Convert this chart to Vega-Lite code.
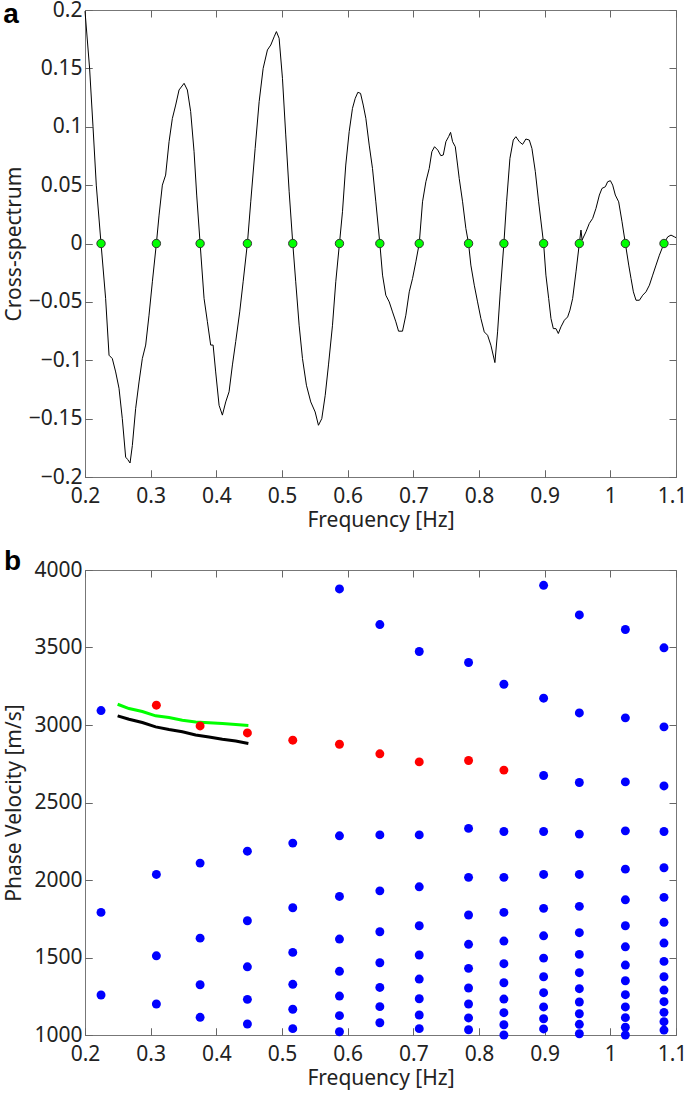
{
  "$schema": "https://vega.github.io/schema/vega-lite/v6.json",
  "padding": {"left": 2, "top": -2, "right": 0, "bottom": 2},
  "background": "white",
  "config": {
    "font": "Noto Sans",
    "view": {"stroke": "#777777", "strokeWidth": 1},
    "axis": {
      "grid": false,
      "domain": false,
      "ticks": true,
      "tickColor": "#666666",
      "tickWidth": 1,
      "tickSize": 7,
      "offset": -7,
      "labelFont": "Noto Sans",
      "titleFont": "Noto Sans",
      "labelFontSize": 21,
      "titleFontSize": 21,
      "titleFontWeight": "normal",
      "labelColor": "#222222",
      "titleColor": "#222222"
    },
    "axisX": {"labelPadding": 8, "titlePadding": 3},
    "axisY": {"labelPadding": 3}
  },
  "spacing": 16,
  "datasets": {
    "wave": [
      {"f":0.2000,"v":0.199},{"f":0.2070,"v":0.150},{"f":0.2122,"v":0.100},{"f":0.2172,"v":0.050},{"f":0.2244,"v":0.000},
      {"f":0.2314,"v":-0.047},{"f":0.2366,"v":-0.0957},{"f":0.2416,"v":-0.0986},{"f":0.2467,"v":-0.110},{"f":0.2518,"v":-0.124},
      {"f":0.2568,"v":-0.150},{"f":0.2619,"v":-0.183},{"f":0.2650,"v":-0.185},{"f":0.2686,"v":-0.188},{"f":0.2721,"v":-0.173},
      {"f":0.2771,"v":-0.1415},{"f":0.2823,"v":-0.1186},{"f":0.2873,"v":-0.0986},{"f":0.2924,"v":-0.087},{"f":0.2975,"v":-0.0614},
      {"f":0.3026,"v":-0.0328},{"f":0.3087,"v":0.000},{"f":0.3128,"v":0.0243},{"f":0.3178,"v":0.050},{"f":0.3228,"v":0.0586},
      {"f":0.3280,"v":0.0872},{"f":0.3330,"v":0.107},{"f":0.3381,"v":0.1186},{"f":0.3432,"v":0.1315},{"f":0.3509,"v":0.1372},
      {"f":0.3559,"v":0.1315},{"f":0.3609,"v":0.113},{"f":0.3661,"v":0.0786},{"f":0.3701,"v":0.0415},{"f":0.3753,"v":0.000},
      {"f":0.3813,"v":-0.047},{"f":0.3864,"v":-0.067},{"f":0.3914,"v":-0.087},{"f":0.3951,"v":-0.087},{"f":0.3990,"v":-0.110},
      {"f":0.4042,"v":-0.1386},{"f":0.4092,"v":-0.147},{"f":0.4143,"v":-0.1357},{"f":0.4194,"v":-0.127},{"f":0.4245,"v":-0.104},
      {"f":0.4295,"v":-0.084},{"f":0.4356,"v":-0.0586},{"f":0.4408,"v":-0.0328},{"f":0.4473,"v":0.000},{"f":0.4524,"v":0.0357},
      {"f":0.4591,"v":0.0814},{"f":0.4652,"v":0.1215},{"f":0.4713,"v":0.150},{"f":0.4778,"v":0.1658},{"f":0.4829,"v":0.170},
      {"f":0.4880,"v":0.177},{"f":0.4915,"v":0.1815},{"f":0.4956,"v":0.1758},{"f":0.5007,"v":0.1415},{"f":0.5057,"v":0.093},
      {"f":0.5109,"v":0.0443},{"f":0.5164,"v":0.000},{"f":0.5209,"v":-0.0328},{"f":0.5261,"v":-0.070},{"f":0.5312,"v":-0.0986},
      {"f":0.5372,"v":-0.1214},{"f":0.5438,"v":-0.1357},{"f":0.5505,"v":-0.1443},{"f":0.5555,"v":-0.1557},{"f":0.5606,"v":-0.150},
      {"f":0.5658,"v":-0.130},{"f":0.5708,"v":-0.104},{"f":0.5769,"v":-0.070},{"f":0.5819,"v":-0.0328},{"f":0.5875,"v":0.000},
      {"f":0.5921,"v":0.0272},{"f":0.5971,"v":0.0672},{"f":0.6023,"v":0.0958},{"f":0.6073,"v":0.1157},{"f":0.6115,"v":0.1243},
      {"f":0.6155,"v":0.1295},{"f":0.6196,"v":0.1286},{"f":0.6237,"v":0.1186},{"f":0.6277,"v":0.1072},{"f":0.6328,"v":0.0843},
      {"f":0.6378,"v":0.0643},{"f":0.6429,"v":0.0357},{"f":0.6490,"v":0.000},{"f":0.6531,"v":-0.0271},{"f":0.6581,"v":-0.0443},
      {"f":0.6633,"v":-0.050},{"f":0.6683,"v":-0.0586},{"f":0.6734,"v":-0.0671},{"f":0.6775,"v":-0.0751},{"f":0.6835,"v":-0.0751},
      {"f":0.6886,"v":-0.0614},{"f":0.6938,"v":-0.0414},{"f":0.6988,"v":-0.030},{"f":0.7038,"v":-0.0157},{"f":0.7090,"v":0.000},
      {"f":0.7140,"v":0.0357},{"f":0.7191,"v":0.0529},{"f":0.7242,"v":0.0643},{"f":0.7282,"v":0.0786},{"f":0.7323,"v":0.0829},
      {"f":0.7373,"v":0.080},{"f":0.7419,"v":0.0752},{"f":0.7456,"v":0.0758},{"f":0.7496,"v":0.0872},{"f":0.7537,"v":0.0915},
      {"f":0.7567,"v":0.0952},{"f":0.7598,"v":0.0872},{"f":0.7639,"v":0.0829},{"f":0.7674,"v":0.0672},{"f":0.7699,"v":0.0557},
      {"f":0.7750,"v":0.0357},{"f":0.7800,"v":0.0129},{"f":0.7841,"v":0.000},{"f":0.7876,"v":-0.0185},{"f":0.7928,"v":-0.0357},
      {"f":0.7978,"v":-0.050},{"f":0.8029,"v":-0.0643},{"f":0.8080,"v":-0.0757},{"f":0.8131,"v":-0.0786},{"f":0.8181,"v":-0.0871},
      {"f":0.8242,"v":-0.102},{"f":0.8283,"v":-0.0757},{"f":0.8324,"v":-0.0414},{"f":0.8379,"v":0.000},{"f":0.8420,"v":0.0357},
      {"f":0.8471,"v":0.0729},{"f":0.8522,"v":0.0886},{"f":0.8562,"v":0.0915},{"f":0.8614,"v":0.0872},{"f":0.8664,"v":0.0849},
      {"f":0.8714,"v":0.0895},{"f":0.8766,"v":0.0886},{"f":0.8806,"v":0.0814},{"f":0.8858,"v":0.0615},{"f":0.8908,"v":0.0357},
      {"f":0.8984,"v":0.000},{"f":0.9019,"v":-0.0271},{"f":0.9061,"v":-0.0471},{"f":0.9096,"v":-0.0643},{"f":0.9132,"v":-0.0729},
      {"f":0.9172,"v":-0.0729},{"f":0.9208,"v":-0.0771},{"f":0.9248,"v":-0.0714},{"f":0.9300,"v":-0.0657},{"f":0.9350,"v":-0.0629},
      {"f":0.9385,"v":-0.0571},{"f":0.9426,"v":-0.0471},{"f":0.9477,"v":-0.0243},{"f":0.9528,"v":0.000},{"f":0.9553,"v":0.0115},
      {"f":0.9570,"v":0.003},{"f":0.9629,"v":0.010},{"f":0.9680,"v":0.0172},{"f":0.9731,"v":0.0215},{"f":0.9781,"v":0.030},
      {"f":0.9833,"v":0.0415},{"f":0.9873,"v":0.0472},{"f":0.9924,"v":0.0486},{"f":0.9959,"v":0.0529},{"f":1.0001,"v":0.0538},
      {"f":1.0036,"v":0.050},{"f":1.0076,"v":0.0415},{"f":1.0127,"v":0.0357},{"f":1.0178,"v":0.0186},{"f":1.0229,"v":0.000},
      {"f":1.0280,"v":-0.0185},{"f":1.0315,"v":-0.030},{"f":1.0351,"v":-0.0414},{"f":1.0391,"v":-0.0486},{"f":1.0443,"v":-0.0486},
      {"f":1.0493,"v":-0.0443},{"f":1.0543,"v":-0.0414},{"f":1.0595,"v":-0.0357},{"f":1.0645,"v":-0.0271},{"f":1.0696,"v":-0.0185},
      {"f":1.0747,"v":-0.010},{"f":1.0817,"v":0.000},{"f":1.0874,"v":0.0057},{"f":1.0924,"v":0.0072},{"f":1.0976,"v":0.0057},
      {"f":1.1000,"v":0.005}
    ],
    "zeros": [
      {"f":0.2244,"v":0},{"f":0.3087,"v":0},{"f":0.3753,"v":0},{"f":0.4473,"v":0},{"f":0.5164,"v":0},
      {"f":0.5875,"v":0},{"f":0.6490,"v":0},{"f":0.7090,"v":0},{"f":0.7841,"v":0},{"f":0.8379,"v":0},
      {"f":0.8984,"v":0},{"f":0.9528,"v":0},{"f":1.0229,"v":0},{"f":1.0817,"v":0}
    ],
    "green": [
      {"f":0.2497,"v":3134},{"f":0.2670,"v":3106},{"f":0.2873,"v":3087},{"f":0.3076,"v":3059},{"f":0.3279,"v":3048},
      {"f":0.3482,"v":3031},{"f":0.3685,"v":3020},{"f":0.3888,"v":3014},{"f":0.4092,"v":3009},{"f":0.4295,"v":3003},
      {"f":0.4488,"v":2997}
    ],
    "black": [
      {"f":0.2497,"v":3059},{"f":0.2670,"v":3037},{"f":0.2873,"v":3016},{"f":0.3076,"v":2988},{"f":0.3279,"v":2971},
      {"f":0.3482,"v":2956},{"f":0.3685,"v":2936},{"f":0.3888,"v":2923},{"f":0.4092,"v":2908},{"f":0.4295,"v":2897},
      {"f":0.4488,"v":2881}
    ],
    "pts": [
      {"f":0.2244,"v":3093,"k":"b"},{"f":0.2244,"v":1791,"k":"b"},{"f":0.2244,"v":1258,"k":"b"},
      {"f":0.3087,"v":3128,"k":"r"},{"f":0.3087,"v":2036,"k":"b"},{"f":0.3087,"v":1511,"k":"b"},{"f":0.3087,"v":1200,"k":"b"},
      {"f":0.3753,"v":2994,"k":"r"},{"f":0.3753,"v":2109,"k":"b"},{"f":0.3753,"v":1625,"k":"b"},{"f":0.3753,"v":1324,"k":"b"},{"f":0.3753,"v":1114,"k":"b"},
      {"f":0.4473,"v":2949,"k":"r"},{"f":0.4473,"v":2186,"k":"b"},{"f":0.4473,"v":1737,"k":"b"},{"f":0.4473,"v":1440,"k":"b"},{"f":0.4473,"v":1230,"k":"b"},{"f":0.4473,"v":1071,"k":"b"},
      {"f":0.5164,"v":2902,"k":"r"},{"f":0.5164,"v":2238,"k":"b"},{"f":0.5164,"v":1821,"k":"b"},{"f":0.5164,"v":1533,"k":"b"},{"f":0.5164,"v":1327,"k":"b"},{"f":0.5164,"v":1166,"k":"b"},{"f":0.5164,"v":1041,"k":"b"},
      {"f":0.5875,"v":3878,"k":"b"},{"f":0.5875,"v":2876,"k":"r"},{"f":0.5875,"v":2285,"k":"b"},{"f":0.5875,"v":1894,"k":"b"},{"f":0.5875,"v":1619,"k":"b"},{"f":0.5875,"v":1411,"k":"b"},{"f":0.5875,"v":1251,"k":"b"},{"f":0.5875,"v":1125,"k":"b"},{"f":0.5875,"v":1021,"k":"b"},
      {"f":0.6490,"v":3648,"k":"b"},{"f":0.6490,"v":2814,"k":"r"},{"f":0.6490,"v":2291,"k":"b"},{"f":0.6490,"v":1930,"k":"b"},{"f":0.6490,"v":1666,"k":"b"},{"f":0.6490,"v":1466,"k":"b"},{"f":0.6490,"v":1307,"k":"b"},{"f":0.6490,"v":1183,"k":"b"},{"f":0.6490,"v":1079,"k":"b"},
      {"f":0.7090,"v":3474,"k":"b"},{"f":0.7090,"v":2762,"k":"r"},{"f":0.7090,"v":2291,"k":"b"},{"f":0.7090,"v":1956,"k":"b"},{"f":0.7090,"v":1705,"k":"b"},{"f":0.7090,"v":1516,"k":"b"},{"f":0.7090,"v":1361,"k":"b"},{"f":0.7090,"v":1234,"k":"b"},{"f":0.7090,"v":1129,"k":"b"},{"f":0.7090,"v":1041,"k":"b"},
      {"f":0.7841,"v":3403,"k":"b"},{"f":0.7841,"v":2771,"k":"r"},{"f":0.7841,"v":2333,"k":"b"},{"f":0.7841,"v":2017,"k":"b"},{"f":0.7841,"v":1774,"k":"b"},{"f":0.7841,"v":1585,"k":"b"},{"f":0.7841,"v":1430,"k":"b"},{"f":0.7841,"v":1303,"k":"b"},{"f":0.7841,"v":1200,"k":"b"},{"f":0.7841,"v":1110,"k":"b"},{"f":0.7841,"v":1034,"k":"b"},
      {"f":0.8379,"v":3263,"k":"b"},{"f":0.8379,"v":2709,"k":"r"},{"f":0.8379,"v":2313,"k":"b"},{"f":0.8379,"v":2017,"k":"b"},{"f":0.8379,"v":1791,"k":"b"},{"f":0.8379,"v":1606,"k":"b"},{"f":0.8379,"v":1460,"k":"b"},{"f":0.8379,"v":1337,"k":"b"},{"f":0.8379,"v":1232,"k":"b"},{"f":0.8379,"v":1144,"k":"b"},{"f":0.8379,"v":1066,"k":"b"},{"f":0.8379,"v":1000,"k":"b"},
      {"f":0.8984,"v":3901,"k":"b"},{"f":0.8984,"v":3173,"k":"b"},{"f":0.8984,"v":2674,"k":"b"},{"f":0.8984,"v":2313,"k":"b"},{"f":0.8984,"v":2036,"k":"b"},{"f":0.8984,"v":1817,"k":"b"},{"f":0.8984,"v":1640,"k":"b"},{"f":0.8984,"v":1496,"k":"b"},{"f":0.8984,"v":1376,"k":"b"},{"f":0.8984,"v":1273,"k":"b"},{"f":0.8984,"v":1181,"k":"b"},{"f":0.8984,"v":1105,"k":"b"},{"f":0.8984,"v":1039,"k":"b"},
      {"f":0.9528,"v":3710,"k":"b"},{"f":0.9528,"v":3078,"k":"b"},{"f":0.9528,"v":2629,"k":"b"},{"f":0.9528,"v":2296,"k":"b"},{"f":0.9528,"v":2036,"k":"b"},{"f":0.9528,"v":1830,"k":"b"},{"f":0.9528,"v":1660,"k":"b"},{"f":0.9528,"v":1520,"k":"b"},{"f":0.9528,"v":1402,"k":"b"},{"f":0.9528,"v":1299,"k":"b"},{"f":0.9528,"v":1213,"k":"b"},{"f":0.9528,"v":1137,"k":"b"},{"f":0.9528,"v":1069,"k":"b"},{"f":0.9528,"v":1008,"k":"b"},
      {"f":1.0229,"v":3616,"k":"b"},{"f":1.0229,"v":3046,"k":"b"},{"f":1.0229,"v":2633,"k":"b"},{"f":1.0229,"v":2317,"k":"b"},{"f":1.0229,"v":2070,"k":"b"},{"f":1.0229,"v":1872,"k":"b"},{"f":1.0229,"v":1705,"k":"b"},{"f":1.0229,"v":1569,"k":"b"},{"f":1.0229,"v":1451,"k":"b"},{"f":1.0229,"v":1350,"k":"b"},{"f":1.0229,"v":1260,"k":"b"},{"f":1.0229,"v":1181,"k":"b"},{"f":1.0229,"v":1112,"k":"b"},{"f":1.0229,"v":1050,"k":"b"},{"f":1.0229,"v":1000,"k":"b"},
      {"f":1.0817,"v":3498,"k":"b"},{"f":1.0817,"v":2988,"k":"b"},{"f":1.0817,"v":2607,"k":"b"},{"f":1.0817,"v":2313,"k":"b"},{"f":1.0817,"v":2079,"k":"b"},{"f":1.0817,"v":1888,"k":"b"},{"f":1.0817,"v":1727,"k":"b"},{"f":1.0817,"v":1593,"k":"b"},{"f":1.0817,"v":1475,"k":"b"},{"f":1.0817,"v":1376,"k":"b"},{"f":1.0817,"v":1290,"k":"b"},{"f":1.0817,"v":1215,"k":"b"},{"f":1.0817,"v":1146,"k":"b"},{"f":1.0817,"v":1086,"k":"b"},{"f":1.0817,"v":1032,"k":"b"}
    ]
  },
  "vconcat": [
    {
      "width": 591,
      "height": 467,
      "title": {"text": "a", "anchor": "start", "frame": "bounds", "font": "Liberation Sans", "fontSize": 28, "fontWeight": "bold", "color": "#000000", "offset": -30},
      "resolve": {"axis": {"x": "independent", "y": "independent"}},
      "layer": [
        {
          "mark": {"type": "rule", "color": "#333333", "strokeWidth": 1},
          "encoding": {"y": {"datum": 0, "type": "quantitative", "scale": {"domain": [-0.2, 0.2], "nice": false}, "axis": null}}
        },
        {
          "data": {"name": "wave"},
          "mark": {"type": "line", "color": "#000000", "strokeWidth": 1},
          "encoding": {
            "x": {"field": "f", "type": "quantitative", "scale": {"domain": [0.2, 1.1], "nice": false, "zero": false},
                  "axis": {"orient": "bottom", "title": "Frequency [Hz]", "values": [0.2,0.3,0.4,0.5,0.6,0.7,0.8,0.9,1,1.1], "format": "~g", "labelFlush": false,
                           "labelOffset": {"condition": {"test": "datum.value > 1.05", "value": -4}, "value": 0}}},
            "y": {"field": "v", "type": "quantitative", "scale": {"domain": [-0.2, 0.2], "nice": false},
                  "axis": {"orient": "left", "title": "Cross-spectrum", "values": [-0.2,-0.15,-0.1,-0.05,0,0.05,0.1,0.15,0.2], "format": "~g", "titlePadding": 4, "labelFlush": false}}
          }
        },
        {
          "data": {"name": "zeros"},
          "mark": {"type": "point", "filled": true, "opacity": 0, "size": 1},
          "encoding": {
            "x": {"field": "f", "type": "quantitative", "scale": {"domain": [0.2, 1.1], "nice": false, "zero": false},
                  "axis": {"orient": "bottom", "title": null, "labels": false, "values": [0.2,0.3,0.4,0.5,0.6,0.7,0.8,0.9,1,1.1]}},
            "y": {"field": "v", "type": "quantitative", "scale": {"domain": [-0.2, 0.2], "nice": false},
                  "axis": {"orient": "left", "title": null, "labels": false, "values": [-0.2,-0.15,-0.1,-0.05,0,0.05,0.1,0.15,0.2]}}
          }
        },
        {
          "data": {"name": "zeros"},
          "mark": {"type": "point", "filled": true, "fill": "#00ff00", "stroke": "#333333", "strokeWidth": 1, "size": 70, "opacity": 1},
          "encoding": {
            "x": {"field": "f", "type": "quantitative", "scale": {"domain": [0.2, 1.1], "nice": false, "zero": false},
                  "axis": {"orient": "top", "title": null, "labels": false, "values": [0.2,0.3,0.4,0.5,0.6,0.7,0.8,0.9,1,1.1]}},
            "y": {"field": "v", "type": "quantitative", "scale": {"domain": [-0.2, 0.2], "nice": false},
                  "axis": {"orient": "right", "title": null, "labels": false, "values": [-0.2,-0.15,-0.1,-0.05,0,0.05,0.1,0.15,0.2]}}
          }
        }
      ]
    },
    {
      "width": 591,
      "height": 465,
      "title": {"text": "b", "anchor": "start", "frame": "bounds", "font": "Liberation Sans", "fontSize": 28, "fontWeight": "bold", "color": "#000000", "offset": -17},
      "resolve": {"axis": {"x": "independent", "y": "independent"}},
      "layer": [
        {
          "data": {"name": "green"},
          "mark": {"type": "line", "color": "#00ff00", "strokeWidth": 3},
          "encoding": {
            "x": {"field": "f", "type": "quantitative", "scale": {"domain": [0.2, 1.1], "nice": false, "zero": false},
                  "axis": {"orient": "top", "title": null, "labels": false, "values": [0.2,0.3,0.4,0.5,0.6,0.7,0.8,0.9,1,1.1]}},
            "y": {"field": "v", "type": "quantitative", "scale": {"domain": [1000, 4000], "nice": false, "zero": false},
                  "axis": {"orient": "right", "title": null, "labels": false, "values": [1000,1500,2000,2500,3000,3500,4000]}}
          }
        },
        {
          "data": {"name": "black"},
          "mark": {"type": "line", "color": "#000000", "strokeWidth": 3},
          "encoding": {
            "x": {"field": "f", "type": "quantitative", "scale": {"domain": [0.2, 1.1], "nice": false, "zero": false},
                  "axis": {"orient": "bottom", "title": null, "labels": false, "values": [0.2,0.3,0.4,0.5,0.6,0.7,0.8,0.9,1,1.1]}},
            "y": {"field": "v", "type": "quantitative", "scale": {"domain": [1000, 4000], "nice": false, "zero": false},
                  "axis": {"orient": "left", "title": null, "labels": false, "values": [1000,1500,2000,2500,3000,3500,4000]}}
          }
        },
        {
          "data": {"name": "pts"},
          "mark": {"type": "circle", "size": 80, "opacity": 1},
          "encoding": {
            "x": {"field": "f", "type": "quantitative", "scale": {"domain": [0.2, 1.1], "nice": false, "zero": false},
                  "axis": {"orient": "bottom", "title": "Frequency [Hz]", "values": [0.2,0.3,0.4,0.5,0.6,0.7,0.8,0.9,1,1.1], "format": "~g", "labelFlush": false,
                           "labelOffset": {"condition": {"test": "datum.value > 1.05", "value": -4}, "value": 0}}},
            "y": {"field": "v", "type": "quantitative", "scale": {"domain": [1000, 4000], "nice": false, "zero": false},
                  "axis": {"orient": "left", "title": "Phase Velocity [m/s]", "values": [1000,1500,2000,2500,3000,3500,4000], "format": "d", "titlePadding": 9, "labelFlush": false}},
            "color": {"field": "k", "type": "nominal", "scale": {"domain": ["b", "r"], "range": ["#0000ff", "#ff0000"]}, "legend": null}
          }
        }
      ]
    }
  ]
}
